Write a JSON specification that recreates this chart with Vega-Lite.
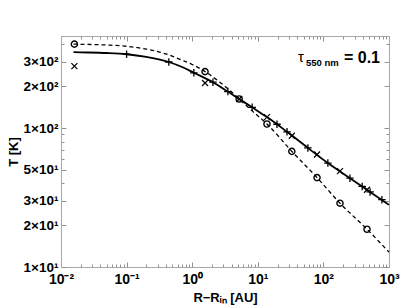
{
 "$schema":"https://vega.github.io/schema/vega-lite/v6.json",
 "width":328,"height":231,
 "autosize":{"type":"none"},
 "padding":{"left":61,"top":36,"right":26,"bottom":41},
 "background":"white",
 "config":{"view":{"stroke":null},"font":"Liberation Sans",
   "axis":{"grid":false,"domainColor":"#a8a8a8","domainWidth":1,"tickColor":"#909090","tickWidth":1,"labelFont":"Liberation Sans","labelFontWeight":"bold","labelFontSize":13.5,"labelColor":"#000","titleFont":"Liberation Sans","titleFontWeight":"bold","titleFontSize":13,"titleColor":"#000","labelOverlap":false,"labelFlush":false,"labelBound":false}},
 "datasets":{
  "curves":[
   {"series":"solid","r":0.0155,"T":352},{"series":"solid","r":0.02,"T":351},{"series":"solid","r":0.05,"T":347},{"series":"solid","r":0.1,"T":340},{"series":"solid","r":0.2,"T":325},{"series":"solid","r":0.44,"T":299},{"series":"solid","r":0.7,"T":275},{"series":"solid","r":1.06,"T":250},{"series":"solid","r":2.07,"T":214},{"series":"solid","r":3.5,"T":183},{"series":"solid","r":5.2,"T":162},{"series":"solid","r":8.2,"T":141},{"series":"solid","r":13.8,"T":120},{"series":"solid","r":27.9,"T":94},{"series":"solid","r":58,"T":72},{"series":"solid","r":117,"T":56},{"series":"solid","r":254,"T":43.6},{"series":"solid","r":515,"T":34.7},{"series":"solid","r":1000,"T":28},
   {"series":"dashed","r":0.0155,"T":402},{"series":"dashed","r":0.02,"T":401},{"series":"dashed","r":0.05,"T":396},{"series":"dashed","r":0.1,"T":388},{"series":"dashed","r":0.2,"T":370},{"series":"dashed","r":0.3,"T":355},{"series":"dashed","r":0.45,"T":335},{"series":"dashed","r":0.7,"T":308},{"series":"dashed","r":1.0,"T":287},{"series":"dashed","r":1.3,"T":269},{"series":"dashed","r":1.57,"T":255},{"series":"dashed","r":2.5,"T":218},{"series":"dashed","r":3.5,"T":192},{"series":"dashed","r":5.2,"T":162},{"series":"dashed","r":8.2,"T":133},{"series":"dashed","r":13.8,"T":107},{"series":"dashed","r":33,"T":68},{"series":"dashed","r":80,"T":44},{"series":"dashed","r":179,"T":28.8},{"series":"dashed","r":462,"T":18.7},{"series":"dashed","r":1000,"T":12.8}
  ],
  "markers":[
   {"marker":"circle","r":0.016,"T":402},{"marker":"circle","r":1.57,"T":255},{"marker":"circle","r":5.2,"T":162},{"marker":"circle","r":13.8,"T":107},{"marker":"circle","r":33,"T":68},{"marker":"circle","r":80,"T":44},{"marker":"circle","r":179,"T":28.8},{"marker":"circle","r":462,"T":18.7},
   {"marker":"cross","r":0.016,"T":279},{"marker":"cross","r":1.57,"T":211},{"marker":"cross","r":5.2,"T":162},{"marker":"cross","r":13.8,"T":120},{"marker":"cross","r":33,"T":88},{"marker":"cross","r":80,"T":64.5},{"marker":"cross","r":179,"T":49},{"marker":"cross","r":462,"T":36},
   {"marker":"plus","r":0.1,"T":340},{"marker":"plus","r":0.44,"T":299},{"marker":"plus","r":1.06,"T":250},{"marker":"plus","r":2.07,"T":214},{"marker":"plus","r":3.5,"T":183},{"marker":"plus","r":8.2,"T":141},{"marker":"plus","r":19.6,"T":106.5},{"marker":"plus","r":27.9,"T":94},{"marker":"plus","r":58,"T":72},{"marker":"plus","r":117,"T":56},{"marker":"plus","r":254,"T":43.6},{"marker":"plus","r":390,"T":38},{"marker":"plus","r":515,"T":34.7},{"marker":"plus","r":780,"T":30.5}
  ],
  "notes":[
   {"part":"tau","text":"τ"},{"part":"sub","text":"550 nm"},{"part":"val","text":"= 0.1"}
  ]
 },
 "layer":[
  {"layer":[
    {"data":{"name":"curves"},"transform":[{"filter":"datum.series=='dashed'"}],"mark":{"type":"line","color":"black","strokeWidth":1.3,"strokeDash":[4,3],"interpolate":"monotone"},
     "encoding":{
    "x":{"field":"r","type":"quantitative","scale":{"type":"log","domain":[0.01,1000],"nice":false},
      "axis":{"orient":"bottom","title":"R−Rᵢₙ [AU]","titlePadding":3,"labelPadding":10,"labelFontSize":14,
        "values":[0.01,0.02,0.03,0.04,0.05,0.06,0.07,0.08,0.09,0.1,0.2,0.3,0.4,0.5,0.6,0.7,0.8,0.9,1,2,3,4,5,6,7,8,9,10,20,30,40,50,60,70,80,90,100,200,300,400,500,600,700,800,900,1000],
        "labelExpr":"abs(log(datum.value)/LN10-round(log(datum.value)/LN10))<0.001 ? ['10⁻²','10⁻¹','10⁰','10¹','10²','10³'][round(log(datum.value)/LN10)+2] : ''",
        "tickSize":{"condition":{"test":"abs(log(datum.value)/LN10-round(log(datum.value)/LN10))<0.001","value":-5},"value":-3}}},
    "y":{"field":"T","type":"quantitative","scale":{"type":"log","domain":[10,460],"nice":false},
      "axis":{"orient":"left","title":"T [K]","titlePadding":3,"labelPadding":8,
        "values":[10,20,30,40,50,60,70,80,90,100,200,300,400],
        "labelExpr":"datum.value==10?'1×10¹':datum.value==20?'2×10¹':datum.value==30?'3×10¹':datum.value==50?'5×10¹':datum.value==100?'1×10²':datum.value==200?'2×10²':datum.value==300?'3×10²':''",
        "tickSize":{"condition":{"test":"indexof([10,20,30,50,100,200,300],datum.value)>=0","value":-5},"value":-3}}}
     }},
    {"data":{"name":"curves"},"transform":[{"filter":"datum.series=='solid'"}],"mark":{"type":"line","color":"black","strokeWidth":1.8,"interpolate":"monotone"},
     "encoding":{"x":{"field":"r","type":"quantitative"},"y":{"field":"T","type":"quantitative"}}},
    {"data":{"name":"markers"},"transform":[{"filter":"datum.marker=='circle'"}],"mark":{"type":"point","shape":"circle","filled":false,"color":"black","strokeWidth":1.4,"size":38,"opacity":1},
     "encoding":{"x":{"field":"r","type":"quantitative"},"y":{"field":"T","type":"quantitative"}}},
    {"data":{"name":"markers"},"transform":[{"filter":"datum.marker=='cross'"}],"mark":{"type":"point","shape":"M-1,-1L1,1M-1,1L1,-1","filled":false,"color":"black","strokeWidth":1.2,"size":36,"opacity":1},
     "encoding":{"x":{"field":"r","type":"quantitative"},"y":{"field":"T","type":"quantitative"}}},
    {"data":{"name":"markers"},"transform":[{"filter":"datum.marker=='plus'"}],"mark":{"type":"point","shape":"M-1,0L1,0M0,-1L0,1","filled":false,"color":"black","strokeWidth":1.3,"size":56,"opacity":1},
     "encoding":{"x":{"field":"r","type":"quantitative"},"y":{"field":"T","type":"quantitative"}}},
    {"data":{"name":"notes"},"transform":[{"filter":"datum.part=='tau'"}],"mark":{"type":"text","align":"left","baseline":"alphabetic","fontSize":15,"font":"Liberation Sans","color":"black"},
     "encoding":{"text":{"field":"text"},"x":{"datum":41,"type":"quantitative"},"y":{"datum":299,"type":"quantitative"}}},
    {"data":{"name":"notes"},"transform":[{"filter":"datum.part=='sub'"}],"mark":{"type":"text","align":"left","baseline":"alphabetic","fontSize":9.5,"fontWeight":"bold","font":"Liberation Sans","color":"black"},
     "encoding":{"text":{"field":"text"},"x":{"datum":54.3,"type":"quantitative"},"y":{"datum":279,"type":"quantitative"}}},
    {"data":{"name":"notes"},"transform":[{"filter":"datum.part=='val'"}],"mark":{"type":"text","align":"left","baseline":"alphabetic","fontSize":16,"fontWeight":"bold","font":"Liberation Sans","color":"black"},
     "encoding":{"text":{"field":"text"},"x":{"datum":206,"type":"quantitative"},"y":{"datum":294,"type":"quantitative"}}}
   ]
  },
  {"data":{"name":"markers"},"mark":{"type":"point","opacity":0},
   "encoding":{
    "x":{"field":"r","type":"quantitative","scale":{"type":"log","domain":[0.01,1000],"nice":false},
      "axis":{"orient":"top","title":null,"labels":false,
        "values":[0.01,0.02,0.03,0.04,0.05,0.06,0.07,0.08,0.09,0.1,0.2,0.3,0.4,0.5,0.6,0.7,0.8,0.9,1,2,3,4,5,6,7,8,9,10,20,30,40,50,60,70,80,90,100,200,300,400,500,600,700,800,900,1000],
        "tickSize":{"condition":{"test":"abs(log(datum.value)/LN10-round(log(datum.value)/LN10))<0.001","value":-5},"value":-3}}},
    "y":{"field":"T","type":"quantitative","scale":{"type":"log","domain":[10,460],"nice":false},
      "axis":{"orient":"right","title":null,"labels":false,
        "values":[10,20,30,40,50,60,70,80,90,100,200,300,400],
        "tickSize":{"condition":{"test":"indexof([10,20,30,50,100,200,300],datum.value)>=0","value":-5},"value":-3}}}
   }
  }
 ],
 "resolve":{"scale":{"x":"independent","y":"independent"},"axis":{"x":"independent","y":"independent"}}
}
